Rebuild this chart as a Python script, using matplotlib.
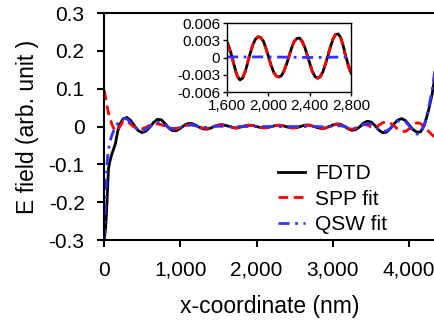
import numpy as np
import matplotlib.pyplot as plt

plt.rcParams['font.family'] = ['Liberation Sans', 'DejaVu Sans']

# x positions (nm) of the sampled points of the main curves
x_main = [0, 10, 20, 30, 40, 50, 60, 80, 100, 125, 150, 175,
          200, 250, 300, 350, 400, 450, 500, 550, 600, 650,
          700, 750, 800, 850, 900, 950, 1000, 1050, 1100, 1150,
          1200, 1250, 1300, 1350, 1400, 1450, 1500, 1550, 1600, 1650,
          1700, 1750, 1800, 1850, 1900, 1950, 2000, 2050, 2100, 2150,
          2200, 2250, 2300, 2350, 2400, 2450, 2500, 2550, 2600, 2650,
          2700, 2750, 2800, 2850, 2900, 2950, 3000, 3050, 3100, 3150,
          3200, 3250, 3300, 3350, 3400, 3450, 3500, 3550, 3600, 3650,
          3700, 3750, 3800, 3850, 3900, 3950, 4000, 4050, 4100, 4150,
          4200, 4250, 4300, 4350]

fdtd = [-0.30, -0.29, -0.27, -0.24, -0.20, -0.15, -0.11, -0.09, -0.075, -0.06, -0.045, -0.018,
        0.004, 0.020, 0.024, 0.016, 0.002, -0.011, -0.016, -0.012, -0.002, 0.011,
        0.019, 0.018, 0.008, -0.004, -0.011, -0.011, -0.005, 0.003, 0.008, 0.008,
        0.004, -0.002, -0.006, -0.007, -0.004, 0.001, 0.004, 0.005, 0.0027, 0.0,
        -0.0033, -0.0036, -0.0009, 0.0022, 0.0036, 0.0029, 0.0002, -0.0025, -0.0034, -0.0024,
        0.0002, 0.0028, 0.0034, 0.0019, -0.001, -0.0033, -0.0034, -0.0013, 0.0018, 0.004,
        0.0035, 0.0001, -0.0027, -0.005, -0.004, 0.0, 0.004, 0.007, 0.006, 0.001,
        -0.006, -0.010, -0.008, -0.001, 0.009, 0.014, 0.012, 0.003, -0.009, -0.016,
        -0.015, -0.006, 0.007, 0.017, 0.021, 0.016, 0.004, -0.008, -0.015, -0.014,
        0.005, 0.04, 0.085, 0.15]

spp = [0.095, 0.088, 0.078, 0.066, 0.055, 0.045, 0.036, 0.022, 0.008, -0.004, -0.012, -0.010,
       -0.003, 0.014, 0.016, 0.006, -0.002, -0.006, -0.006, -0.002, 0.003, 0.006,
       0.007, 0.005, 0.001, -0.003, -0.005, -0.005, -0.002, 0.002, 0.004, 0.005,
       0.003, -0.001, -0.004, -0.005, -0.003, 0.001, 0.004, 0.0045, 0.0024, -0.0001,
       -0.0033, -0.0036, -0.0010, 0.0022, 0.0036, 0.0029, 0.0002, -0.0025, -0.0034, -0.0024,
       0.0002, 0.0028, 0.0034, 0.0019, -0.001, -0.0033, -0.0034, -0.0013, 0.0018, 0.004,
       0.0035, 0.0, -0.003, -0.005, -0.004, 0.0, 0.004, 0.006, 0.005, 0.0,
       -0.005, -0.007, -0.005, 0.002, 0.006, 0.004, -0.001, -0.003, 0.003, 0.010,
       0.013, 0.010, 0.002, -0.007, -0.012, -0.013, -0.006, 0.004, 0.010, 0.008,
       -0.002, -0.012, -0.022, -0.03]

qsw = [-0.30, -0.25, -0.19, -0.14, -0.10, -0.075, -0.06, -0.04, -0.025, -0.012, -0.002, 0.007,
       0.013, 0.021, 0.020, 0.011, -0.001, -0.009, -0.012, -0.008, 0.0, 0.007,
       0.011, 0.010, 0.004, -0.003, -0.007, -0.007, -0.003, 0.001, 0.004, 0.004,
       0.002, -0.001, -0.002, -0.002, -0.001, 0.0003, 0.0008, 0.0006, 0.0002, 0.0001,
       0.0001, 0.0001, 0.0001, 0.0001, 0.0001, 0.0001, 0.0001, 0.0001, 0.0001, 0.0001,
       0.0001, 0.0001, 0.0, 0.0, 0.0, 0.0, 0.0, 0.0, 0.0001, 0.0001,
       0.0001, 0.0001, 0.0, -0.0005, -0.0008, 0.0, 0.001, 0.002, 0.002, 0.0,
       -0.003, -0.005, -0.004, 0.0, 0.005, 0.008, 0.007, 0.001, -0.007, -0.012,
       -0.012, -0.005, 0.006, 0.014, 0.017, 0.013, 0.002, -0.011, -0.020, -0.018,
       0.005, 0.045, 0.095, 0.17]

# zoomed region (inset), 25 nm sampling
x_inset = [1600, 1625, 1650, 1675, 1700, 1725, 1750, 1775, 1800, 1825,
           1850, 1875, 1900, 1925, 1950, 1975, 2000, 2025, 2050, 2075,
           2100, 2125, 2150, 2175, 2200, 2225, 2250, 2275, 2300, 2325,
           2350, 2375, 2400, 2425, 2450, 2475, 2500, 2525, 2550, 2575,
           2600, 2625, 2650, 2675, 2700, 2725, 2750, 2775, 2800]
fdtd_inset = [0.0027, 0.0015, 0.0000, -0.0018, -0.0033, -0.0039, -0.0036, -0.0025, -0.0009, 0.0008,
              0.0022, 0.0032, 0.0036, 0.0035, 0.0029, 0.0017, 0.0002, -0.0013, -0.0025, -0.0032,
              -0.0034, -0.0032, -0.0024, -0.0012, 0.0002, 0.0017, 0.0028, 0.0033, 0.0034, 0.0029,
              0.0019, 0.0005, -0.0010, -0.0024, -0.0033, -0.0036, -0.0034, -0.0026, -0.0013, 0.0002,
              0.0018, 0.0032, 0.0040, 0.0041, 0.0035, 0.0020, 0.0001, -0.0014, -0.0027]
spp_inset = [0.0024, 0.0013, -0.0002, -0.0019, -0.0033, -0.0038, -0.0035, -0.0024, -0.0008, 0.0009,
             0.0023, 0.0032, 0.0036, 0.0034, 0.0028, 0.0016, 0.0001, -0.0014, -0.0026, -0.0032,
             -0.0034, -0.0031, -0.0023, -0.0011, 0.0003, 0.0018, 0.0028, 0.0033, 0.0034, 0.0028,
             0.0018, 0.0004, -0.0011, -0.0025, -0.0033, -0.0036, -0.0033, -0.0025, -0.0012, 0.0003,
             0.0019, 0.0032, 0.0040, 0.0041, 0.0034, 0.0019, 0.0000, -0.0016, -0.0030]
x_qsw_inset = [1600, 2000, 2400, 2800]
qsw_inset = [0.0001, 0.0001, 0.0, 0.0001]

xticks = [0, 1000, 2000, 3000, 4000]
xtick_labels = ['0', '1,000', '2,000', '3,000', '4,000']
yticks = [-0.3, -0.2, -0.1, 0, 0.1, 0.2, 0.3]
ytick_labels = ['-0.3', '-0.2', '-0.1', '0', '0.1', '0.2', '0.3']
inset_xticks = [1600, 2000, 2400, 2800]
inset_xlabels = ['1,600', '2,000', '2,400', '2,800']
inset_yticks = [-0.006, -0.003, 0, 0.003, 0.006]
inset_ylabels = ['-0.006', '-0.003', '0', '0.003', '0.006']

fig = plt.figure(figsize=(4.35, 3.2), dpi=100)
ax = fig.add_axes([0.239, 0.250, 0.761, 0.709])

ax.plot(x_main, fdtd, color='k', lw=2, label='FDTD')
ax.plot(x_main, spp, color='red', lw=2, linestyle=(0, (3.5, 2)), label='SPP fit')
ax.plot(x_main, qsw, color='#3333ff', lw=2, linestyle=(0, (4, 2, 1, 2)), label='QSW fit')

ax.set_xlim(0, 4338)
ax.set_ylim(-0.3, 0.3)
ax.set_xticks(xticks)
ax.set_xticklabels(xtick_labels)
ax.set_yticks(yticks)
ax.set_yticklabels(ytick_labels)
ax.tick_params(direction='out', length=5, width=1.5, labelsize=15)
ax.tick_params(axis='x', pad=10)
ax.tick_params(axis='y', pad=9)
for s in ['left', 'bottom', 'top']:
    ax.spines[s].set_linewidth(1.5)
ax.spines['right'].set_visible(False)
ax.set_xlabel('x-coordinate (nm)', fontsize=16.5, labelpad=11)
ax.set_ylabel('E field (arb. unit )', fontsize=16.5, labelpad=7)

ax.legend(loc='upper left', bbox_to_anchor=(0.50, 0.37), frameon=False, fontsize=15,
          handlelength=1.3, handletextpad=0.5, labelspacing=0.3, borderaxespad=0)

# inset
ins = fig.add_axes([0.522, 0.7125, 0.285, 0.2156])
ins.plot(x_inset, fdtd_inset, color='k', lw=2)
ins.plot(x_inset, spp_inset, color='red', lw=2, linestyle=(0, (3, 2)))
ins.plot(x_qsw_inset, qsw_inset, color='#3333ff', lw=2, linestyle=(0, (4, 2, 1, 2)))
ins.set_xlim(1600, 2800)
ins.set_ylim(-0.006, 0.006)
ins.set_xticks(inset_xticks)
ins.set_xticklabels(inset_xlabels)
ins.set_yticks(inset_yticks)
ins.set_yticklabels(inset_ylabels)
ins.tick_params(direction='out', length=3, width=1, labelsize=11, pad=2)
for s in ins.spines.values():
    s.set_linewidth(1)

fig.savefig('out.png', dpi=100)
